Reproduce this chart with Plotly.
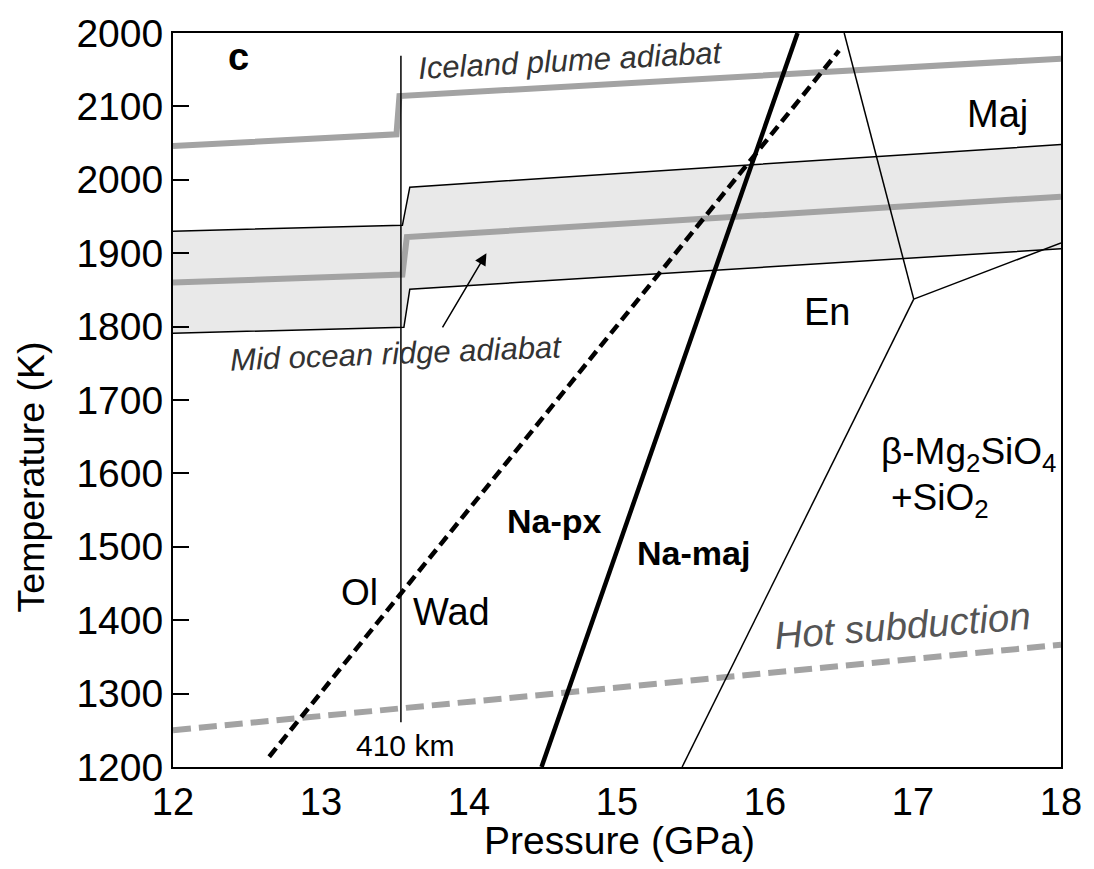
import plotly.graph_objects as go

# ---------------- data ----------------
# axis ticks
x_ticks = [12, 13, 14, 15, 16, 17, 18]
y_ticks = [1200, 1300, 1400, 1500, 1600, 1700, 1800, 1900, 2000, 2100, 2200]
y_ticktext = ["1200", "1300", "1400", "1500", "1600", "1700", "1800", "1900", "2000", "2100", "2000"]

# 410 km discontinuity
p_410 = [13.54, 13.54]
t_410 = [1261, 2169]

# Iceland plume adiabat
p_iceland = [12.0, 13.51, 13.53, 18.0]
t_iceland = [2046, 2062, 2114, 2165]

# Mid ocean ridge adiabat (centre) and its band
p_mor = [12.0, 13.55, 13.58, 18.0]
t_mor = [1860, 1871, 1922, 1977]
p_band_up = [12.0, 13.55, 13.60, 18.0]
t_band_up = [1930, 1938, 1990, 2048]
p_band_lo = [12.0, 13.56, 13.60, 18.0]
t_band_lo = [1791, 1799, 1851, 1906]

# Ol / Wad (Na-px) dashed boundary
p_dashed = [12.65, 16.50]
t_dashed = [1214, 2176]

# Na-px / Na-maj boundary
p_namaj = [14.49, 16.22]
t_namaj = [1200, 2200]

# En / Maj / beta+SiO2 boundaries
p_en_maj = [16.535, 17.005]
t_en_maj = [2200, 1837.5]
p_maj_beta = [17.005, 18.0]
t_maj_beta = [1837.5, 1914]
p_en_beta = [17.005, 15.44]
t_en_beta = [1837.5, 1200]

# Hot subduction geotherm
p_hot = [12.0, 18.0]
t_hot = [1250, 1366.5]

# ---------------- figure ----------------
FONT = "Liberation Sans, Arial, Helvetica, sans-serif"
GRAY = "#a3a3a3"
fig = go.Figure()

# band fill
fig.add_trace(go.Scatter(
    x=p_band_up + p_band_lo[::-1], y=t_band_up + t_band_lo[::-1],
    fill="toself", fillcolor="#e9e9e9", line=dict(width=0), mode="lines",
    hoverinfo="skip", showlegend=False))
fig.add_trace(go.Scatter(x=p_band_up, y=t_band_up, mode="lines",
                         line=dict(color="black", width=1.5), showlegend=False))
fig.add_trace(go.Scatter(x=p_band_lo, y=t_band_lo, mode="lines",
                         line=dict(color="black", width=1.5), showlegend=False))
# adiabats
fig.add_trace(go.Scatter(x=p_mor, y=t_mor, mode="lines",
                         line=dict(color=GRAY, width=6), showlegend=False))
fig.add_trace(go.Scatter(x=p_iceland, y=t_iceland, mode="lines",
                         line=dict(color=GRAY, width=6), showlegend=False))
# hot subduction
fig.add_trace(go.Scatter(x=p_hot, y=t_hot, mode="lines",
                         line=dict(color=GRAY, width=6, dash="18px,8px"), showlegend=False))
# 410 km
fig.add_trace(go.Scatter(x=p_410, y=t_410, mode="lines",
                         line=dict(color="black", width=1.5), showlegend=False))
# phase boundaries
fig.add_trace(go.Scatter(x=p_en_maj, y=t_en_maj, mode="lines",
                         line=dict(color="black", width=1.5), showlegend=False))
fig.add_trace(go.Scatter(x=p_maj_beta, y=t_maj_beta, mode="lines",
                         line=dict(color="black", width=1.5), showlegend=False))
fig.add_trace(go.Scatter(x=p_en_beta, y=t_en_beta, mode="lines",
                         line=dict(color="black", width=1.5), showlegend=False))
fig.add_trace(go.Scatter(x=p_dashed, y=t_dashed, mode="lines",
                         line=dict(color="black", width=4.5, dash="11px,6px"), showlegend=False))
fig.add_trace(go.Scatter(x=p_namaj, y=t_namaj, mode="lines",
                         line=dict(color="black", width=4.5), showlegend=False))

def lab(text, x, y, size, color="black", angle=0, xanchor="center", xref="x", yref="y"):
    fig.add_annotation(text=text, x=x, y=y, xref=xref, yref=yref, showarrow=False,
                       textangle=angle, xanchor=xanchor, yanchor="middle",
                       font=dict(family=FONT, size=size, color=color))

lab("<b>c</b>", 12.44, 2167, 38)
lab("<i>Iceland plume adiabat</i>", 14.686, 2163, 31, "#333333", -3)
lab("<i>Mid ocean ridge adiabat</i>", 13.506, 1764, 31, "#333333", -2.3)
lab("<i>Hot subduction</i>", 16.926, 1393, 38.5, "#555555", -4.5)
lab("Maj", 17.569, 2089, 38)
lab("En", 16.416, 1820, 38)
lab("<b>Na-px</b>", 14.58, 1535, 34)
lab("<b>Na-maj</b>", 15.516, 1491, 34)
lab("Ol", 13.259, 1438, 37)
lab("Wad", 13.88, 1411, 38)
lab("410 km", 13.568, 1229, 30)
lab("β-Mg<sub>2</sub>SiO<sub>4</sub>", 16.772, 1626, 37, xanchor="left")
lab("+SiO<sub>2</sub>", 16.839, 1564, 37, xanchor="left")

# axis titles
lab("Pressure (GPa)", 15.02, -0.1, 39, yref="paper")
lab("Temperature (K)", -0.1595, 0.395, 37.5, angle=-90, xref="paper", yref="paper")

# arrow
fig.add_annotation(x=14.118, y=1900, ax=13.815, ay=1797, xref="x", yref="y",
                   axref="x", ayref="y", showarrow=True, text="",
                   arrowhead=2, arrowsize=1.6, arrowwidth=1.5, arrowcolor="black")

fig.update_layout(
    width=1094, height=869,
    margin=dict(l=173, r=28, t=24, b=102),
    paper_bgcolor="white", plot_bgcolor="white",
    showlegend=False,
    font=dict(family=FONT, size=37, color="black"),
    xaxis=dict(range=[12, 18], tickvals=x_ticks, ticks="", showgrid=False, zeroline=False,
               showline=True, linecolor="black", linewidth=2, mirror=True,
               tickfont=dict(size=38, family=FONT)),
    yaxis=dict(range=[1200, 2200], tickvals=y_ticks, ticktext=y_ticktext,
               ticks="inside", ticklen=16, tickwidth=2, tickcolor="black",
               showgrid=False, zeroline=False,
               showline=True, linecolor="black", linewidth=2, mirror=True,
               tickfont=dict(size=39, family=FONT)),
)

fig.write_html("out.html")
